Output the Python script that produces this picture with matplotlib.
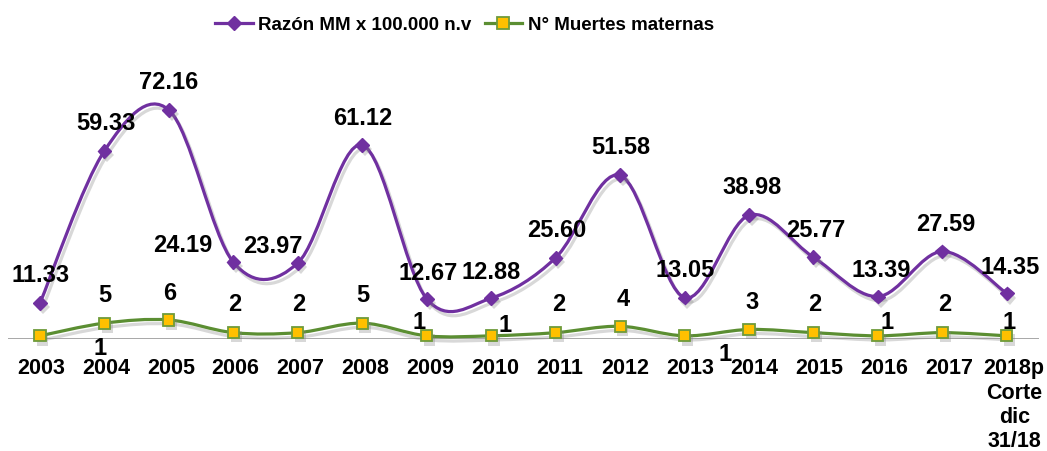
import matplotlib
matplotlib.use("Agg")
import matplotlib.pyplot as plt
from matplotlib.path import Path
from matplotlib.patches import PathPatch
from matplotlib.lines import Line2D
import matplotlib.patheffects as pe
import numpy as np

plt.rcParams['font.family'] = ['Liberation Sans', 'DejaVu Sans']
plt.rcParams['font.weight'] = 'bold'

# ---- data ----
categories = ["2003", "2004", "2005", "2006", "2007", "2008", "2009", "2010",
              "2011", "2012", "2013", "2014", "2015", "2016", "2017",
              "2018p\nCorte\ndic\n31/18"]
razon_mm = [11.33, 59.33, 72.16, 24.19, 23.97, 61.12, 12.67, 12.88,
            25.60, 51.58, 13.05, 38.98, 25.77, 13.39, 27.59, 14.35]
muertes = [1, 5, 6, 2, 2, 5, 1, 1, 2, 4, 1, 3, 2, 1, 2, 1]
series_names = ["Razón MM x 100.000 n.v", "N° Muertes maternas"]

# ---- label offsets (pixels, from marker) ----
razon_off = [(1, 28), (1, 27), (0, 28), (-51, 17), (-25, 16), (0, 27), (1, 25), (0, 26),
             (1, 27), (1, 28), (1, 27), (3, 28), (2, 27), (3, 26), (3, 27), (3, 26)]
muertes_off = [(60, -13), (0, 28), (1, 26), (1, 28), (1, 28), (1, 28), (-8, 13), (14, 10),
               (3, 28), (3, 27), (41, -19), (3, 27), (1, 28), (9, 13), (2, 28), (2, 13)]

PURPLE = '#7030A0'
GREEN = '#5B8E32'
YELLOW = '#FFC000'
MEDGE = '#6E9B3A'

W, H = 1047, 451
fig = plt.figure(figsize=(W / 100, H / 100), dpi=100)
x_left, x_right = 7.8, 1039.0
y_zero, px_per_unit = 339.0, 3.173
ymax = 80
ax = fig.add_axes([x_left / W, 1 - y_zero / H, (x_right - x_left) / W,
                   ymax * px_per_unit / H])
ax.set_xlim(-0.5, len(categories) - 0.5)
ax.set_ylim(0, ymax)
for s in ax.spines.values():
    s.set_visible(False)
ax.set_yticks([])
xs = np.arange(len(categories))
# tick labels in the reference sit on a slightly wider pitch than the markers
ax.set_xticks(xs * 1.0067 + 0.015)
ax.set_xticklabels(categories, fontsize=15.5, fontweight='bold')
ax.tick_params(axis='x', length=0, pad=14)

shadow = [pe.SimpleLineShadow(offset=(2, -3), shadow_color='#808080', alpha=0.3), pe.Normal()]

# baseline axis
ax.axhline(0, color='#A0A0A0', lw=1.3, zorder=1,
           path_effects=[pe.SimpleLineShadow(offset=(0, -2), shadow_color='#808080', alpha=0.3), pe.Normal()])


def smooth_path(xv, yv):
    xv = np.asarray(xv, float)
    yv = np.asarray(yv, float)
    n = len(xv)
    verts = [(xv[0], yv[0])]
    codes = [Path.MOVETO]
    for i in range(n - 1):
        i0 = max(i - 1, 0)
        i3 = min(i + 2, n - 1)
        c1 = (xv[i] + (xv[i + 1] - xv[i0]) / 6, yv[i] + (yv[i + 1] - yv[i0]) / 6)
        c2 = (xv[i + 1] - (xv[i3] - xv[i]) / 6, yv[i + 1] - (yv[i3] - yv[i]) / 6)
        verts += [c1, c2, (xv[i + 1], yv[i + 1])]
        codes += [Path.CURVE4] * 3
    return Path(verts, codes)


mshadow = [pe.SimplePatchShadow(offset=(2, -3), shadow_rgbFace='#808080', alpha=0.3), pe.Normal()]

# purple series
ax.add_patch(PathPatch(smooth_path(xs, razon_mm), fill=False, edgecolor=PURPLE,
                       lw=2.3, zorder=3, path_effects=shadow, clip_on=False))
ax.plot(xs, razon_mm, linestyle='none', marker='D', markersize=7, color=PURPLE,
        zorder=4, clip_on=False, path_effects=mshadow)

# green series
ax.add_patch(PathPatch(smooth_path(xs, muertes), fill=False, edgecolor=GREEN,
                       lw=2.3, zorder=3, path_effects=shadow, clip_on=False))
ax.plot(xs, muertes, linestyle='none', marker='s', markersize=8, markerfacecolor=YELLOW,
        markeredgecolor=MEDGE, markeredgewidth=1.3, zorder=4, clip_on=False,
        path_effects=mshadow)

for i, v in enumerate(razon_mm):
    dx, dy = razon_off[i]
    ax.annotate(f"{v:.2f}", xy=(i, v), xytext=(dx, dy), textcoords='offset pixels',
                ha='center', va='center', fontsize=17, fontweight='bold',
                annotation_clip=False, zorder=6)
for i, v in enumerate(muertes):
    dx, dy = muertes_off[i]
    ax.annotate(f"{v}", xy=(i, v), xytext=(dx, dy), textcoords='offset pixels',
                ha='center', va='center', fontsize=17, fontweight='bold',
                annotation_clip=False, zorder=6)

# legend
h1 = Line2D([], [], color=PURPLE, lw=2.3, marker='D', markersize=7)
h2 = Line2D([], [], color=GREEN, lw=2.3, marker='s', markersize=8,
            markerfacecolor=YELLOW, markeredgecolor=MEDGE, markeredgewidth=1.3)
fig.legend([h1, h2], series_names, loc='center left',
           bbox_to_anchor=(215 / W, 1 - 25 / H), ncol=2, frameon=False,
           prop={'size': 13.5, 'weight': 'bold'}, handlelength=2.0,
           handletextpad=0.3, columnspacing=0.7, borderpad=0, borderaxespad=0)

fig.savefig("out.png", dpi=100)
